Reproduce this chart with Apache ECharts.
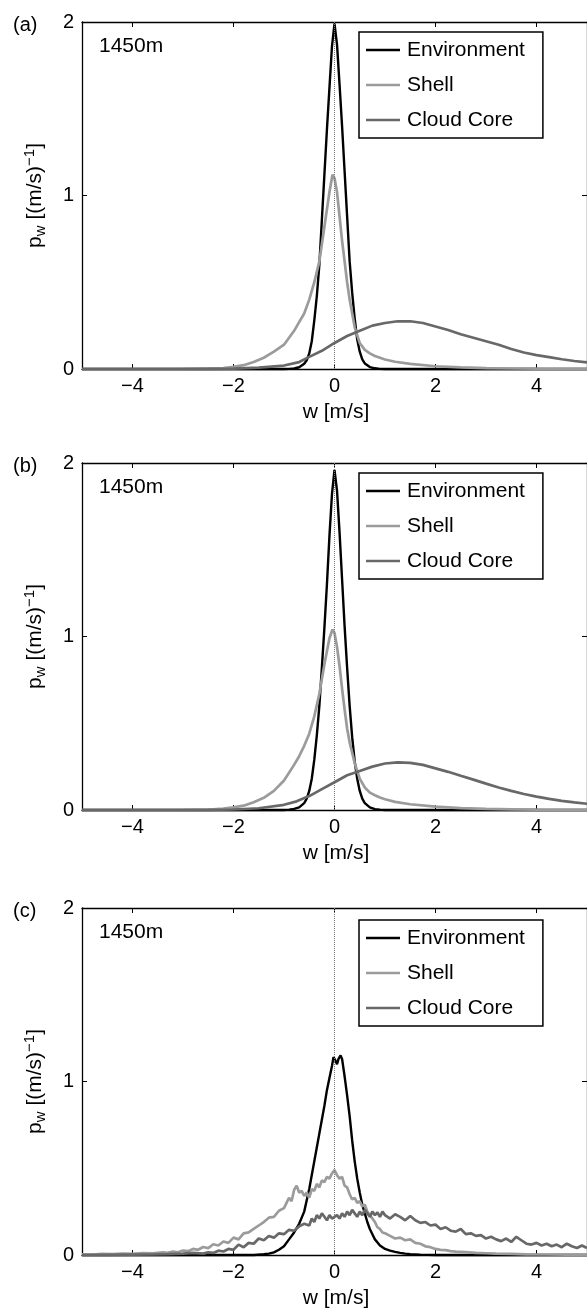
<!DOCTYPE html>
<html>
<head>
<meta charset="utf-8">
<script src="https://cdn.jsdelivr.net/npm/echarts@6/dist/echarts.min.js"></script>
<style>
html,body{margin:0;padding:0;background:#fff;}
#chart{width:587px;height:1314px;}
</style>
</head>
<body>
<div id="chart"></div>
<script>
// ---------- data (w [m/s], p_w) ----------
const seriesNames = ['Environment', 'Shell', 'Cloud Core'];
const panelLabels = ['(a)', '(b)', '(c)'];
const heightLabel = '1450m';
const xTickValues = [-4, -2, 0, 2, 4];
const yTickValues = [0, 1, 2];

// Panel (a)
const envA = [[-5,0],[-1.0,0],[-0.9,0.001],[-0.8,0.003],[-0.7,0.010],[-0.6,0.030],[-0.55,0.05],[-0.5,0.09],[-0.45,0.16],[-0.4,0.28],[-0.35,0.42],[-0.3,0.60],[-0.25,0.86],[-0.2,1.12],[-0.15,1.38],[-0.1,1.62],[-0.05,1.86],[0,1.99],[0.05,1.87],[0.1,1.64],[0.15,1.40],[0.2,1.14],[0.25,0.88],[0.3,0.62],[0.35,0.44],[0.4,0.29],[0.45,0.17],[0.5,0.10],[0.55,0.055],[0.6,0.032],[0.7,0.011],[0.8,0.004],[0.9,0.001],[1.0,0],[5,0]];
const shellA = [[-5,0],[-3.0,0.001],[-2.5,0.003],[-2.2,0.005],[-2.0,0.012],[-1.8,0.022],[-1.6,0.04],[-1.4,0.065],[-1.2,0.10],[-1.0,0.14],[-0.8,0.22],[-0.7,0.27],[-0.6,0.32],[-0.5,0.40],[-0.4,0.50],[-0.3,0.62],[-0.2,0.82],[-0.1,1.02],[-0.04,1.12],[0,1.10],[0.05,1.02],[0.1,0.88],[0.15,0.74],[0.2,0.62],[0.25,0.50],[0.3,0.40],[0.4,0.24],[0.5,0.15],[0.6,0.11],[0.7,0.09],[0.8,0.075],[0.9,0.065],[1.0,0.055],[1.2,0.042],[1.5,0.03],[2.0,0.016],[2.5,0.009],[3.0,0.005],[3.5,0.003],[4.0,0.002],[5.0,0.001]];
const cloudA = [[-5,0],[-3,0],[-2.5,0.001],[-2.0,0.002],[-1.5,0.008],[-1.0,0.02],[-0.7,0.04],[-0.5,0.07],[-0.25,0.105],[0,0.15],[0.25,0.19],[0.5,0.22],[0.75,0.25],[1.0,0.265],[1.25,0.275],[1.5,0.275],[1.75,0.265],[2.0,0.245],[2.25,0.225],[2.5,0.20],[2.75,0.18],[3.0,0.16],[3.25,0.14],[3.5,0.115],[3.75,0.095],[4.0,0.08],[4.25,0.068],[4.5,0.056],[4.75,0.046],[5.0,0.038]];

// Panel (b)
const envB = [[-5,0],[-1.0,0],[-0.9,0.002],[-0.8,0.006],[-0.7,0.015],[-0.6,0.04],[-0.55,0.065],[-0.5,0.11],[-0.45,0.18],[-0.4,0.29],[-0.35,0.43],[-0.3,0.60],[-0.25,0.82],[-0.2,1.05],[-0.15,1.30],[-0.1,1.58],[-0.05,1.82],[0,1.96],[0.05,1.84],[0.1,1.60],[0.15,1.33],[0.2,1.06],[0.25,0.82],[0.3,0.60],[0.35,0.42],[0.4,0.28],[0.45,0.18],[0.5,0.11],[0.55,0.065],[0.6,0.04],[0.7,0.015],[0.8,0.005],[0.9,0.002],[1.0,0],[5,0]];
const shellB = [[-5,0],[-3.0,0.001],[-2.4,0.004],[-2.2,0.008],[-2.0,0.015],[-1.8,0.025],[-1.6,0.045],[-1.4,0.07],[-1.2,0.11],[-1.0,0.17],[-0.8,0.26],[-0.7,0.31],[-0.6,0.37],[-0.5,0.44],[-0.4,0.54],[-0.3,0.67],[-0.2,0.84],[-0.1,0.99],[-0.04,1.04],[0,1.02],[0.05,0.94],[0.1,0.83],[0.15,0.70],[0.2,0.58],[0.25,0.47],[0.3,0.39],[0.4,0.27],[0.5,0.18],[0.6,0.13],[0.7,0.10],[0.8,0.085],[0.9,0.072],[1.0,0.062],[1.2,0.047],[1.5,0.033],[2.0,0.019],[2.5,0.011],[3.0,0.006],[3.5,0.004],[4.0,0.002],[5.0,0.001]];
const cloudB = [[-5,0],[-3,0],[-2.5,0.001],[-2.0,0.003],[-1.5,0.01],[-1.0,0.03],[-0.75,0.05],[-0.5,0.08],[-0.25,0.12],[0,0.16],[0.25,0.20],[0.5,0.225],[0.75,0.25],[1.0,0.268],[1.25,0.275],[1.5,0.272],[1.75,0.26],[2.0,0.24],[2.25,0.22],[2.5,0.197],[2.75,0.175],[3.0,0.152],[3.25,0.13],[3.5,0.11],[3.75,0.092],[4.0,0.077],[4.25,0.064],[4.5,0.053],[4.75,0.044],[5.0,0.036]];

// Panel (c)
const envC = [[-5,0],[-1.6,0],[-1.4,0.004],[-1.3,0.008],[-1.2,0.015],[-1.1,0.03],[-1.0,0.05],[-0.9,0.09],[-0.8,0.13],[-0.7,0.18],[-0.6,0.25],[-0.5,0.38],[-0.4,0.54],[-0.3,0.70],[-0.2,0.86],[-0.15,0.95],[-0.1,1.02],[-0.05,1.09],[-0.02,1.14],[0.02,1.12],[0.05,1.10],[0.08,1.13],[0.12,1.15],[0.15,1.13],[0.2,1.03],[0.25,0.92],[0.3,0.80],[0.35,0.66],[0.4,0.54],[0.45,0.44],[0.5,0.36],[0.55,0.29],[0.6,0.24],[0.65,0.19],[0.7,0.15],[0.75,0.12],[0.8,0.09],[0.9,0.055],[1.0,0.035],[1.1,0.025],[1.2,0.018],[1.3,0.012],[1.4,0.008],[1.5,0.005],[1.7,0.002],[2.0,0],[5,0]];
const shellC = [[-5.0,0.004],[-4.8,0.003],[-4.6,0.006],[-4.4,0.005],[-4.2,0.008],[-4.0,0.007],[-3.8,0.011],[-3.6,0.009],[-3.4,0.015],[-3.3,0.012],[-3.2,0.02],[-3.1,0.016],[-3.0,0.026],[-2.9,0.022],[-2.8,0.035],[-2.7,0.03],[-2.6,0.046],[-2.5,0.04],[-2.4,0.062],[-2.3,0.055],[-2.2,0.078],[-2.1,0.07],[-2.0,0.10],[-1.9,0.09],[-1.8,0.125],[-1.7,0.13],[-1.6,0.15],[-1.5,0.17],[-1.4,0.19],[-1.3,0.215],[-1.2,0.22],[-1.1,0.255],[-1.0,0.27],[-0.95,0.30],[-0.9,0.33],[-0.85,0.31],[-0.8,0.375],[-0.75,0.40],[-0.7,0.36],[-0.65,0.37],[-0.6,0.34],[-0.55,0.36],[-0.5,0.33],[-0.45,0.38],[-0.4,0.37],[-0.35,0.41],[-0.3,0.39],[-0.25,0.43],[-0.2,0.42],[-0.15,0.45],[-0.1,0.44],[-0.05,0.47],[0,0.49],[0.05,0.46],[0.1,0.44],[0.15,0.45],[0.2,0.40],[0.25,0.39],[0.3,0.35],[0.35,0.32],[0.4,0.33],[0.45,0.30],[0.5,0.31],[0.55,0.28],[0.6,0.29],[0.65,0.25],[0.7,0.23],[0.75,0.21],[0.8,0.19],[0.85,0.16],[0.9,0.15],[0.95,0.13],[1.0,0.125],[1.1,0.11],[1.2,0.095],[1.3,0.10],[1.4,0.085],[1.5,0.09],[1.6,0.07],[1.7,0.065],[1.8,0.05],[1.9,0.045],[2.0,0.035],[2.1,0.03],[2.2,0.028],[2.3,0.022],[2.4,0.02],[2.6,0.017],[2.8,0.012],[3.0,0.01],[3.2,0.008],[3.5,0.006],[3.8,0.004],[4.2,0.003],[4.6,0.002],[5.0,0.002]];
const cloudC = [[-5,0],[-4.5,0.001],[-4.0,0.002],[-3.6,0.003],[-3.3,0.005],[-3.0,0.008],[-2.8,0.012],[-2.6,0.008],[-2.5,0.015],[-2.4,0.012],[-2.3,0.025],[-2.2,0.02],[-2.1,0.035],[-2.0,0.03],[-1.9,0.06],[-1.8,0.045],[-1.7,0.07],[-1.6,0.065],[-1.5,0.095],[-1.4,0.085],[-1.3,0.11],[-1.2,0.10],[-1.1,0.125],[-1.0,0.12],[-0.9,0.145],[-0.8,0.14],[-0.7,0.165],[-0.6,0.18],[-0.5,0.17],[-0.45,0.21],[-0.4,0.19],[-0.35,0.23],[-0.3,0.21],[-0.25,0.24],[-0.2,0.22],[-0.15,0.20],[-0.1,0.23],[-0.05,0.21],[0,0.22],[0.05,0.23],[0.1,0.21],[0.15,0.24],[0.2,0.22],[0.25,0.25],[0.3,0.23],[0.35,0.26],[0.4,0.24],[0.45,0.22],[0.5,0.25],[0.55,0.23],[0.6,0.26],[0.65,0.24],[0.7,0.22],[0.75,0.25],[0.8,0.23],[0.85,0.245],[0.9,0.22],[0.95,0.25],[1.0,0.23],[1.1,0.21],[1.2,0.235],[1.3,0.22],[1.4,0.20],[1.5,0.225],[1.6,0.20],[1.7,0.185],[1.8,0.19],[1.9,0.17],[2.0,0.175],[2.1,0.15],[2.2,0.16],[2.3,0.14],[2.4,0.135],[2.5,0.15],[2.6,0.12],[2.7,0.125],[2.8,0.11],[2.9,0.115],[3.0,0.095],[3.1,0.105],[3.2,0.09],[3.3,0.08],[3.4,0.095],[3.5,0.075],[3.6,0.105],[3.7,0.085],[3.8,0.065],[3.9,0.06],[4.0,0.07],[4.1,0.055],[4.2,0.065],[4.3,0.05],[4.4,0.06],[4.5,0.045],[4.6,0.065],[4.7,0.05],[4.8,0.04],[4.9,0.055],[5.0,0.04]];

const panelData = [[envA, shellA, cloudA], [envB, shellB, cloudB], [envC, shellC, cloudC]];

// ---------- layout / style ----------
const FONT = '"Liberation Sans", Arial, Helvetica, sans-serif';
const colors = ['#000000', '#9b9b9b', '#686868'];
const panelTops = [22, 463, 908];
const legendTops = [32, 473, 920];
const PLOT_LEFT = 82, PLOT_W = 507.5, PLOT_H = 347;

function fmt(v) { return v < 0 ? '\u2212' + Math.abs(v) : String(v); }

const option = {
  animation: false,
  backgroundColor: '#fff',
  grid: [], xAxis: [], yAxis: [], series: [], legend: [], graphic: []
};

panelData.forEach((sets, i) => {
  const top = panelTops[i];
  option.grid.push({ left: PLOT_LEFT, top: top, width: PLOT_W, height: PLOT_H, containLabel: false });
  const axLine = { show: true, onZero: false, lineStyle: { color: '#000', width: 1.3 } };
  const tick = { show: true, inside: true, length: 5, lineStyle: { color: '#000', width: 1 } };
  option.xAxis.push({
    gridIndex: i, type: 'value', position: 'bottom', min: -5, max: 5,
    axisLine: axLine,
    axisTick: Object.assign({ customValues: xTickValues }, tick),
    axisLabel: { customValues: xTickValues, formatter: fmt, fontSize: 20, fontFamily: FONT, color: '#000', margin: 7 },
    splitLine: { show: false }
  });
  option.xAxis.push({
    gridIndex: i, type: 'value', position: 'top', min: -5, max: 5,
    axisLine: axLine,
    axisTick: Object.assign({ customValues: xTickValues }, tick),
    axisLabel: { show: false }, splitLine: { show: false }
  });
  option.yAxis.push({
    gridIndex: i, type: 'value', position: 'left', min: 0, max: 2, interval: 1,
    axisLine: axLine, axisTick: tick,
    axisLabel: { formatter: fmt, fontSize: 20, fontFamily: FONT, color: '#000', margin: 8 },
    splitLine: { show: false }
  });
  option.yAxis.push({
    gridIndex: i, type: 'value', position: 'right', min: 0, max: 2, interval: 1,
    axisLine: axLine, axisTick: tick,
    axisLabel: { show: false }, splitLine: { show: false }
  });
  sets.forEach((data, k) => {
    const s = {
      name: seriesNames[k], type: 'line', xAxisIndex: 2 * i, yAxisIndex: 2 * i,
      data: data, symbol: 'none', showSymbol: false, clip: false, silent: true,
      lineStyle: { color: colors[k], width: k === 0 ? 2.4 : 2.7 }, itemStyle: { color: colors[k] },
      z: 3 + k
    };
    if (k === 0) {
      s.markLine = {
        silent: true, symbol: ['none', 'none'], label: { show: false },
        lineStyle: { type: 'dotted', color: '#777', width: 1 },
        data: [{ xAxis: 0 }], animation: false
      };
    }
    option.series.push(s);
  });
  option.legend.push({
    data: seriesNames.map(n => ({ name: n, icon: 'rect' })),
    orient: 'vertical', left: 359, top: legendTops[i],
    selectedMode: false,
    itemWidth: 34, itemHeight: 2.6, itemGap: 11,
    padding: [6, 18, 6, 7],
    borderColor: '#000', borderWidth: 1.5, borderRadius: 0, backgroundColor: '#fff',
    textStyle: { fontSize: 21, fontFamily: FONT, color: '#000', lineHeight: 24, padding: [0, 0, 0, 2] }
  });
  option.graphic.push(
    { type: 'text', x: 13, y: top + 3, silent: true,
      style: { text: panelLabels[i], fontSize: 20, fontFamily: FONT, fill: '#000', align: 'left', verticalAlign: 'middle' } },
    { type: 'text', x: 99, y: top + 24, silent: true,
      style: { text: heightLabel, fontSize: 21, fontFamily: FONT, fill: '#000', align: 'left', verticalAlign: 'middle' } },
    { type: 'text', x: 336, y: top + PLOT_H + 43, silent: true,
      style: { text: 'w [m/s]', fontSize: 21, fontFamily: FONT, fill: '#000', align: 'center', verticalAlign: 'middle' } },
    { type: 'text', x: 35, y: top + PLOT_H / 2, rotation: Math.PI / 2, silent: true,
      style: {
        text: '{m|p}{s|w}{m| [(m/s)}{u|\u22121}{m|]}',
        align: 'center', verticalAlign: 'middle', fill: '#000',
        rich: {
          m: { fontSize: 21, fontFamily: FONT, lineHeight: 26, fill: '#000' },
          s: { fontSize: 15, fontFamily: FONT, lineHeight: 16, verticalAlign: 'bottom', fill: '#000' },
          u: { fontSize: 15, fontFamily: FONT, lineHeight: 16, verticalAlign: 'top', fill: '#000' }
        }
      } }
  );
});

const chart = echarts.init(document.getElementById('chart'), null, { renderer: 'canvas' });
chart.setOption(option);
</script>
</body>
</html>
